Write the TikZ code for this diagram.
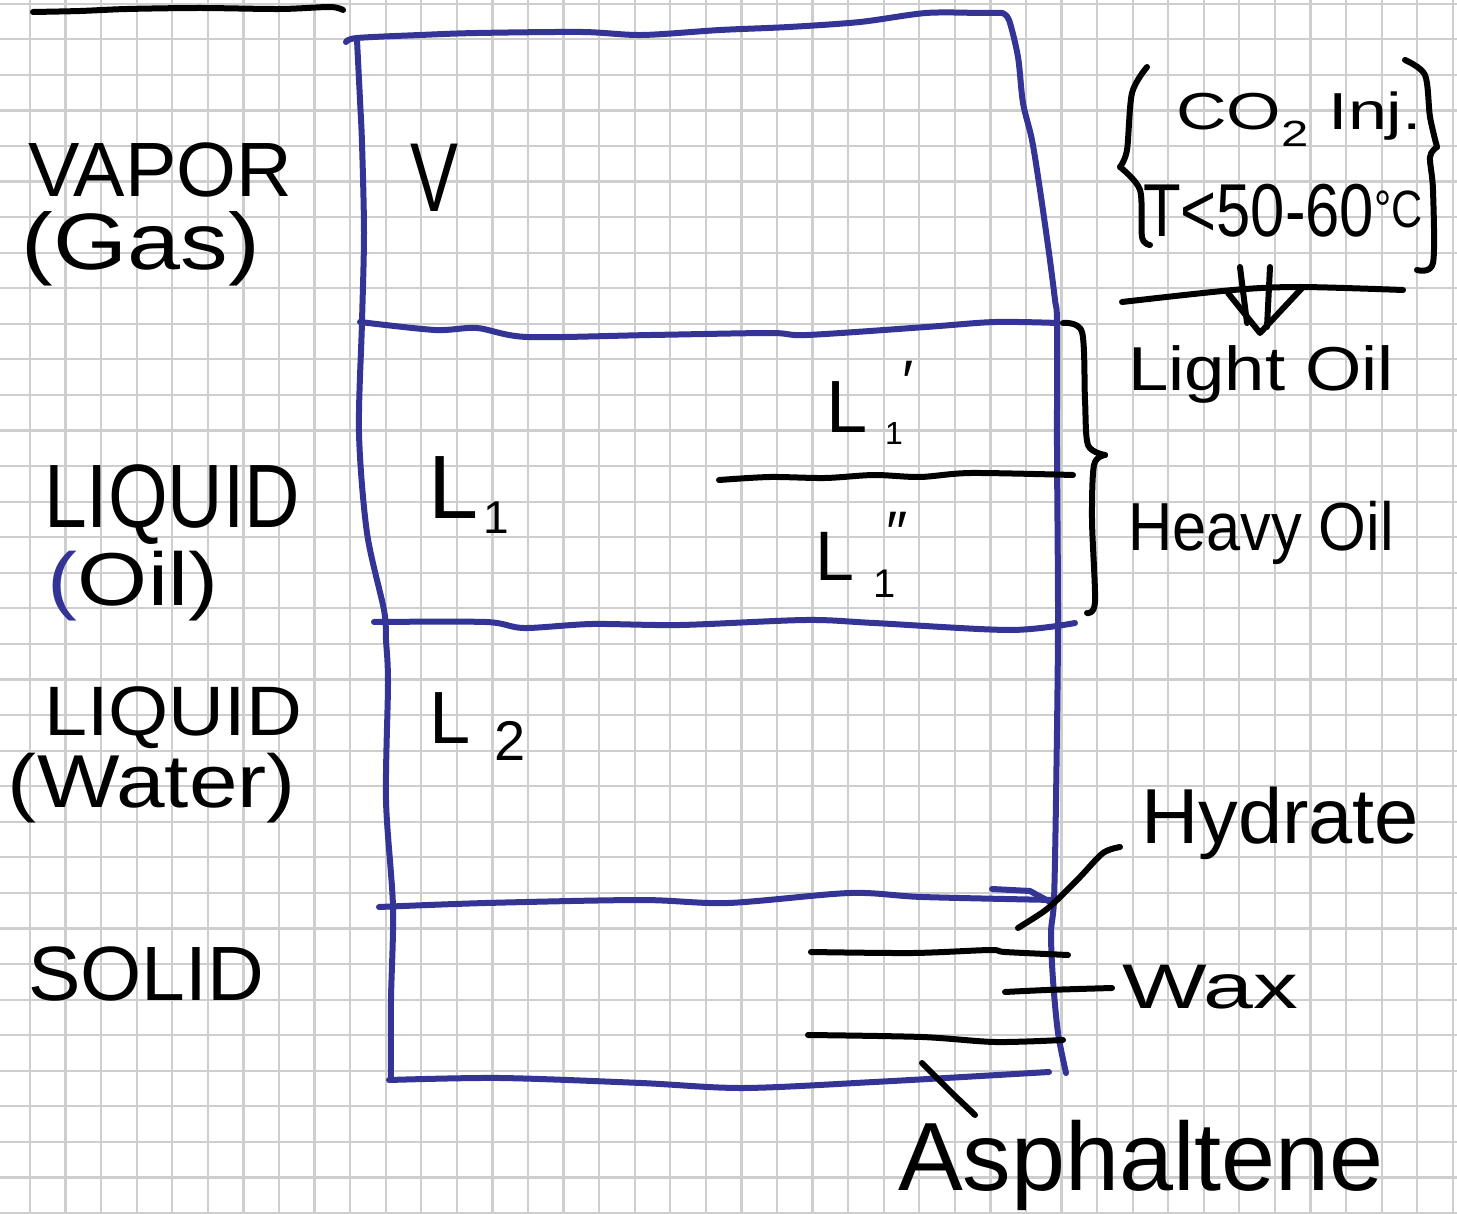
\documentclass[tikz,border=0pt]{standalone}
\usepackage{fontspec}
\setmainfont{Liberation Sans}
\usepackage{graphicx}
\definecolor{blueink}{RGB}{52,52,150}
\definecolor{gridc}{RGB}{206,206,206}
\newcommand{\hw}[3]{\resizebox{#1}{\height}{\fontsize{#2}{#2}\selectfont #3}}
\begin{document}
\begin{tikzpicture}[x=1pt,y=-1pt,line cap=round,line join=round,
  blueline/.style={draw=blueink,line width=6pt},
  inkline/.style={draw=black,line width=6pt},
  gridline/.style={draw=gridc,line width=2.2pt},
  lbl/.style={anchor=base west,inner sep=0pt,outer sep=0pt,text=black}]
\useasboundingbox (0,0) rectangle (1457,1214);
\fill[white] (0,0) rectangle (1457,1214);
\foreach \i in {0,...,40} \draw[gridline] ({30+35.57*\i},0) -- ({30+35.57*\i},1214);
\foreach \j in {0,...,34} \draw[gridline] (0,{3.7+35.57*\j}) -- (1457,{3.7+35.57*\j});

% top black stroke
\draw[inkline] plot[smooth] coordinates {(33,12) (80,11) (127,9) (200,8) (280,9) (330,7) (343,10)};

% blue vessel
\draw[blueline] plot[smooth] coordinates {(346,42) (357,38) (420,35) (477,33) (582,32) (642,35) (720,30) (789,27) (860,22) (926,13) (981,13) (1002,13)};
\draw[blueline] plot[smooth] coordinates {(1002,13) (1009,20) (1018,57) (1023,103) (1032,140) (1040,190) (1049,253) (1055,300) (1057,323) (1057,450) (1058,627) (1056,800) (1054,900) (1051,933) (1053,980) (1058,1033) (1066,1073)};
\draw[blueline] plot[smooth] coordinates {(357,40) (360,100) (362,143) (364,233) (362,322) (359,433) (367,533) (384,610) (386,640) (388,683) (386,800) (393,907) (391,1000) (391,1080)};
\draw[blueline] plot[smooth] coordinates {(360,322) (435,330) (477,328) (527,337) (651,335) (770,333) (807,335) (926,327) (995,322) (1058,323)};
\draw[blueline] plot[smooth] coordinates {(374,622) (486,622) (524,628) (592,624) (680,625) (806,620) (874,623) (1010,630) (1075,623)};
\draw[blueline] plot[smooth] coordinates {(379,907) (486,903) (641,900) (728,903) (850,893) (922,897) (1054,900)};
\draw[blueline] (992,889) -- (1030,891) -- (1052,903);
\draw[blueline] plot[smooth] coordinates {(389,1080) (500,1078) (641,1083) (743,1088) (874,1082) (1049,1072)};

% black lines inside
\draw[inkline] plot[smooth] coordinates {(719,480) (770,477) (825,478) (874,475) (920,477) (971,473) (1073,475)};
\draw[inkline] plot[smooth] coordinates {(811,952) (913,953) (990,950) (1005,952) (1068,955)};
\draw[inkline] plot[smooth] coordinates {(808,1035) (922,1037) (995,1042) (1063,1040)};

% labels left
\node[lbl] (vapor) at (28,197) {\hw{264pt}{77}{VAPOR}};
\node[lbl] (gas) at (22,270) {\hw{238pt}{80}{(Gas)}};
\node[lbl] (liqoil) at (44,527) {\hw{256pt}{90}{LIQUID}};
\node[lbl] (oil) at (48,605) {\hw{170pt}{75}{\textcolor{blueink}{(}Oil)}};
\node[lbl] (liqwat) at (44,735) {\hw{258pt}{70}{LIQUID}};
\node[lbl] (water) at (8,807) {\hw{288pt}{75}{(Water)}};
\node[lbl] (solid) at (28,1000) {\hw{236pt}{77}{SOLID}};

% labels inside
\node[lbl] (vlab) at (410,212) {\hw{48pt}{98}{V}};
\node[lbl] (l1) at (428,518) {\fontsize{90}{90}\selectfont L\hspace{5pt}\raisebox{-15pt}{\fontsize{46}{46}\selectfont 1}};
\node[lbl] (l1p) at (826,433) {\fontsize{74}{74}\selectfont L\hspace{18pt}\raisebox{-12pt}{\fontsize{32}{32}\selectfont 1}\raisebox{30pt}{\fontsize{60}{60}\selectfont ′}};
\node[lbl] (l1pp) at (815,580) {\fontsize{70}{70}\selectfont L\hspace{20pt}\raisebox{-17pt}{\fontsize{40}{40}\selectfont 1}\hspace{-10pt}\raisebox{27pt}{\fontsize{60}{60}\selectfont ″}};
\node[lbl] (l2) at (429,743) {\fontsize{74}{74}\selectfont L\hspace{24pt}\raisebox{-17pt}{\fontsize{56}{56}\selectfont 2}};

% labels right
\node[lbl] (co2) at (1176,130) {\hw{246pt}{52}{CO\textsubscript{2} Inj.}};
\node[lbl] (temp) at (1143,237) {\hw{280pt}{75}{T<50-60\textsuperscript{°C}}};
\node[lbl] (light) at (1128,391) {\hw{266pt}{62}{Light Oil}};
\node[lbl] (heavy) at (1128,550) {\hw{266pt}{68}{Heavy Oil}};
\node[lbl] (hyd) at (1141,843) {\hw{278pt}{78}{Hydrate}};
\node[lbl] (wax) at (1122,1008) {\hw{176pt}{63}{Wax}};
\node[lbl] (asph) at (898,1190) {\hw{486pt}{97}{Asphaltene}};

% braces
\draw[inkline] plot[smooth] coordinates {(1147,67) (1132,93) (1127,150) (1120,167)};
\draw[inkline] plot[smooth] coordinates {(1120,167) (1140,190) (1142,237) (1150,245)};
\draw[inkline] plot[smooth] coordinates {(1405,60) (1425,75) (1430,117) (1437,147)};
\draw[inkline] plot[smooth] coordinates {(1437,147) (1430,157) (1433,190) (1433,263) (1417,270)};
\draw[inkline] plot[smooth] coordinates {(1063,323) (1082,332) (1085,400) (1088,445) (1105,455)};
\draw[inkline] plot[smooth] coordinates {(1105,455) (1094,465) (1092,520) (1095,602) (1087,613)};

% double arrow under the brace
\draw[inkline] plot[smooth] coordinates {(1122,302) (1233,290) (1300,287) (1403,290)};
\draw[inkline] (1240,267) -- (1247,323);
\draw[inkline] (1270,267) -- (1267,327);
\draw[inkline] (1228,293) -- (1260,333) -- (1303,287);

% pointers
\coordinate (hydtip) at (1018,928);
\coordinate (hydend) at (1120,847);
\coordinate (waxtip) at (1005,992);
\coordinate (waxend) at (1112,988);
\coordinate (asptip) at (922,1063);
\coordinate (aspend) at (975,1115);
\draw[inkline] plot[smooth] coordinates {(hydtip) (1043,912) (1057,900) (1080,877) (1103,853) (hydend)};
\draw[inkline] plot[smooth] coordinates {(waxtip) (1047,990) (waxend)};
\draw[inkline] (asptip) -- (954,1095) -- (aspend);
\end{tikzpicture}
\end{document}
